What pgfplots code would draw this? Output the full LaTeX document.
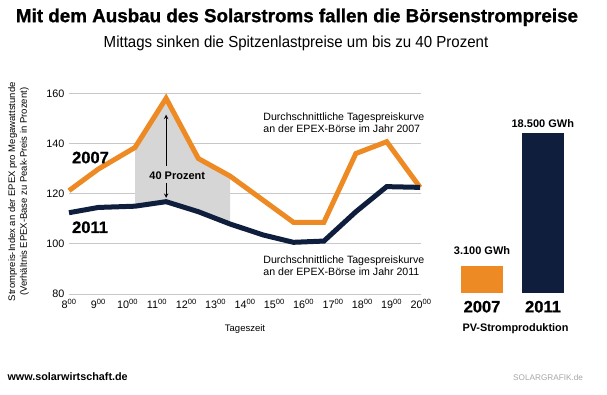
\documentclass[border=0pt]{standalone}
\usepackage{pgfplots}
\pgfplotsset{compat=1.18}
\usepackage{fontspec}
\setmainfont{Liberation Sans}
\newfontfamily\heavyfont[FakeBold=1]{Liberation Sans}
\definecolor{sorange}{RGB}{238,138,36}
\definecolor{snavy}{RGB}{14,30,60}
\definecolor{sgrid}{RGB}{200,200,200}
\definecolor{sfill}{RGB}{214,214,214}
\newcommand{\hh}[1]{#1\textsuperscript{00}}
\begin{document}
\begin{tikzpicture}[x=1pt,y=1pt]
\path[use as bounding box] (0,0) rectangle (607,394);
% titles
\node[font=\fontsize{18.8}{21}\heavyfont\bfseries] at (297,376.7) {Mit dem Ausbau des Solarstroms fallen die Börsenstrompreise};
\node at (296,351) {\scalebox{0.94}[1]{\fontsize{16}{18}\selectfont Mittags sinken die Spitzenlastpreise um bis zu 40 Prozent}};
% y label
\node[rotate=90, font=\fontsize{9.5}{11.6}\selectfont, align=center] at (18.5,202.3) {Strompreis-Index an der EPEX pro Megawattstunde\\(Verhältnis EPEX-Base zu Peak-Preis in Prozent)};
\node[font=\fontsize{9.5}{11}\selectfont] at (245,65) {Tageszeit};
\begin{axis}[at={(69pt,100pt)}, anchor=south west, scale only axis,
  width=352pt, height=200.7pt,
  xmin=8, xmax=20, ymin=80, ymax=160,
  axis line style={draw=none}, major tick length=0pt,
  ytick={80,100,...,160}, xtick={8,...,20},
  xticklabels={\hh{8},\hh{9},\hh{10},\hh{11},\hh{12},\hh{13},\hh{14},\hh{15},\hh{16},\hh{17},\hh{18},\hh{19},\hh{20}},
  ymajorgrids, grid style={sgrid, line width=0.8pt},
  tick label style={font=\fontsize{10.8}{12}\selectfont},
  /pgf/number format/assume math mode=true,
  yticklabel style={xshift=-1pt},
  xticklabel style={yshift=-2pt},
  clip=false]
% shaded region
\addplot[fill=sfill, draw=none] coordinates {(10.25,138.4) (11.31,158) (12.41,134) (13.49,127) (13.49,107.9) (12.41,112.8) (11.31,116.8) (10.25,115)} -- cycle;
% 2007
\addplot[sorange, line width=5pt] coordinates {(8,121.2) (9,129.8) (10.25,138.4) (11.31,158) (12.41,134) (13.49,127) (15.65,108.6) (16.69,108.6) (17.78,136) (18.83,140.7) (19.97,122.5)};
% 2011
\addplot[snavy, line width=5pt] coordinates {(8,112.4) (9,114.5) (10.25,115) (11.31,116.8) (12.41,112.8) (13.49,107.9) (14.63,103.5) (15.65,100.6) (16.69,101.1) (17.78,112.8) (18.83,122.8) (19.97,122.5)};
\draw[-stealth, line width=1pt] (axis cs:11.31,131) -- (axis cs:11.31,151.5);
\draw[-stealth, line width=1pt] (axis cs:11.31,124.2) -- (axis cs:11.31,118.3);
\node[font=\fontsize{11}{12}\selectfont\bfseries] at (axis cs:11.69,127) {40 Prozent};
\node[anchor=west, inner sep=0pt, font=\fontsize{16.5}{18}\heavyfont\bfseries] at (axis cs:8.1,134.4) {2007};
\node[anchor=west, inner sep=0pt, font=\fontsize{16.5}{18}\heavyfont\bfseries] at (axis cs:8.1,106.6) {2011};
\node[anchor=west, inner sep=0pt, align=left, font=\fontsize{10.6}{11.7}\selectfont] at (axis cs:14.62,148.3) {Durchschnittliche Tagespreiskurve\\an der EPEX-Börse im Jahr 2007};
\node[anchor=west, inner sep=0pt, align=left, font=\fontsize{10.6}{11.7}\selectfont] at (axis cs:14.62,91.2) {Durchschnittliche Tagespreiskurve\\an der EPEX-Börse im Jahr 2011};
\end{axis}
% bar chart
\begin{axis}[at={(451.6pt,101.3pt)}, anchor=south west, scale only axis,
  width=121.6pt, height=159.4pt,
  xmin=-0.5, xmax=1.5, ymin=0, ymax=18500,
  hide axis, clip=false, ybar, bar width=42.5pt, bar shift=0pt]
\addplot[fill=sorange, draw=none] coordinates {(0,3100)};
\addplot[fill=snavy, draw=none] coordinates {(1,18500)};
\node[font=\fontsize{11}{12}\selectfont\bfseries] at ([yshift=15.6pt]axis cs:0,3100) {3.100 GWh};
\node[font=\fontsize{11}{12}\selectfont\bfseries] at ([yshift=10pt]axis cs:1,18500) {18.500 GWh};
\end{axis}
\node[font=\fontsize{16.5}{18}\heavyfont\bfseries] at (482,87.3) {2007};
\node[font=\fontsize{16.5}{18}\heavyfont\bfseries] at (543,87.3) {2011};
\node[font=\fontsize{10.9}{12}\selectfont\bfseries] at (515.5,65) {PV-Stromproduktion};
\node[anchor=west, inner sep=0pt, font=\fontsize{10.8}{12}\selectfont\bfseries] at (7.3,17.3) {www.solarwirtschaft.de};
\node[anchor=west, inner sep=0pt, text=black!35, font=\fontsize{8.2}{10}\selectfont] at (513,16.3) {SOLARGRAFIK.de};
\end{tikzpicture}
\end{document}
